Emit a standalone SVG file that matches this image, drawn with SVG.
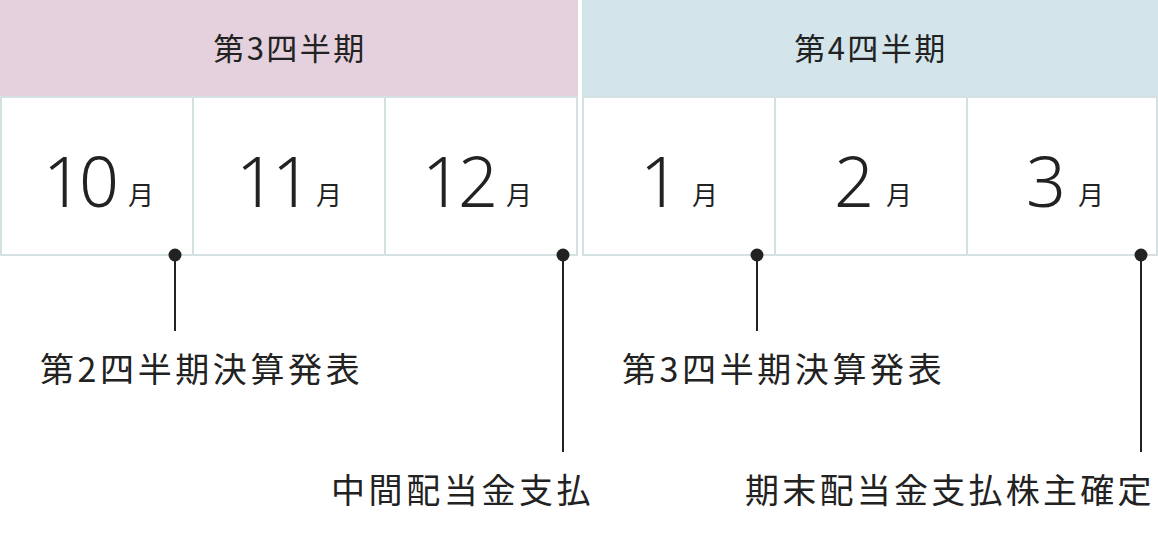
<svg xmlns="http://www.w3.org/2000/svg" width="1158" height="560" viewBox="0 0 1158 560">
<style>
text{font-family:"Noto Sans CJK JP","Noto Sans",sans-serif;fill:#222}
.h{font-size:31px;text-anchor:middle;letter-spacing:2.5px}
.cell{fill:#fff;stroke:#d5e0e3;stroke-width:2}
.n{font-size:70px;font-weight:300;letter-spacing:-4px;font-family:"Noto Sans","Noto Sans CJK JP",sans-serif}
.m{font-size:26px}
.l{font-size:34px;letter-spacing:3.6px}
.ln{stroke:#222;stroke-width:2}
</style>
<rect width="1158" height="560" fill="#fff"/>
<g id="q3"><rect x="0" y="0" width="578" height="96" fill="#e4d1dd"/><text class="h" x="290" y="60">第3四半期</text></g>
<g id="q4"><rect x="582" y="0" width="576" height="96" fill="#d3e4ea"/><text class="h" x="871" y="60">第4四半期</text></g>
<g id="m10"><rect class="cell" x="1" y="97" width="192" height="158"/><text x="43" y="207" class="n">10</text><text x="128" y="205" class="m">月</text></g>
<g id="m11"><rect class="cell" x="193" y="97" width="192" height="158"/><text x="236" y="207" class="n">11</text><text x="316" y="205" class="m">月</text></g>
<g id="m12"><rect class="cell" x="385" y="97" width="192" height="158"/><text x="422" y="207" class="n">12</text><text x="506" y="205" class="m">月</text></g>
<g id="m1"><rect class="cell" x="583" y="97" width="192" height="158"/><text x="640" y="207" class="n">1</text><text x="692" y="205" class="m">月</text></g>
<g id="m2"><rect class="cell" x="775" y="97" width="192" height="158"/><text x="834" y="207" class="n">2</text><text x="886" y="205" class="m">月</text></g>
<g id="m3"><rect class="cell" x="967" y="97" width="190" height="158"/><text x="1026" y="207" class="n">3</text><text x="1078" y="205" class="m">月</text></g>
<g id="connectors">
<line class="ln" x1="175" y1="255" x2="175" y2="331"/><circle cx="175" cy="255" r="6.5" fill="#222"/>
<line class="ln" x1="563" y1="255" x2="563" y2="452"/><circle cx="563" cy="255" r="6.5" fill="#222"/>
<line class="ln" x1="757" y1="255" x2="757" y2="331"/><circle cx="757" cy="255" r="6.5" fill="#222"/>
<line class="ln" x1="1141" y1="255" x2="1141" y2="452"/><circle cx="1141" cy="255" r="6.5" fill="#222"/>
</g>
<g id="e1"><text class="l" x="40" y="382">第2四半期決算発表</text></g>
<g id="e2"><text class="l" x="331" y="503">中間配当金支払</text></g>
<g id="e3"><text class="l" x="622" y="382">第3四半期決算発表</text></g>
<g id="e4"><text class="l" x="745" y="503" textLength="410">期末配当金支払株主確定</text></g>
</svg>
